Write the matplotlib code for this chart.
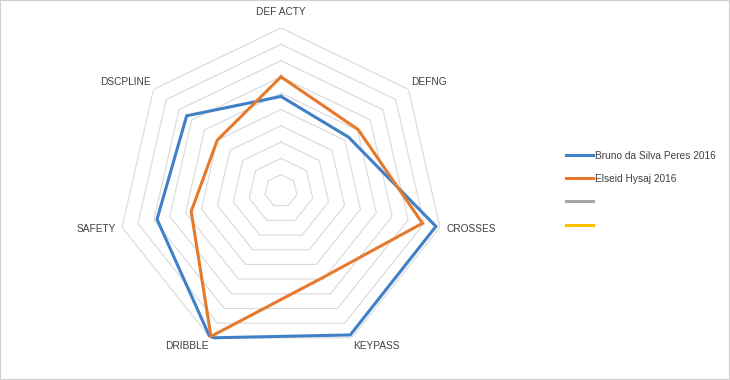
import numpy as np
import matplotlib
matplotlib.use("Agg")
import matplotlib.pyplot as plt
from matplotlib.patches import Rectangle

# datos (escala 0-10)
categorias = ["DEF ACTY", "DEFNG", "CROSSES", "KEYPASS", "DRIBBLE", "SAFETY", "DSCPLINE"]
bruno = [5.8, 5.3, 9.75, 9.8, 10.0, 7.8, 7.4]
elseid = [7.0, 6.05, 8.9, 5.9, 9.9, 5.65, 5.0]
series = ["Bruno da Silva Peres 2016", "Elseid Hysaj 2016", "", ""]
colores = ["#3F80C6", "#E57A2C", "#A5A5A5", "#FFC000"]
anillos = np.arange(1, 11)

plt.rcParams["font.family"] = ["Liberation Sans", "DejaVu Sans"]

fig = plt.figure(figsize=(7.3, 3.8), dpi=100)
ax = fig.add_axes([0.1616, 0.0684, 0.4466, 0.858], projection="polar")
ax.set_theta_zero_location("N")
ax.set_theta_direction(-1)
ax.set_ylim(0, 10)
ax.grid(False)
ax.spines["polar"].set_visible(False)
ax.set_xticks([])
ax.set_yticks([])
ax.patch.set_alpha(0)

n = len(categorias)
angulos = np.linspace(0, 2 * np.pi, n, endpoint=False)
cerrado = np.append(angulos, angulos[0])

# anillos heptagonales
for r in anillos:
    ax.plot(cerrado, [r] * (n + 1), color="#D9D9D9", lw=0.8, zorder=1)

ax.plot(cerrado, bruno + bruno[:1], color=colores[0], lw=2.2, zorder=3,
        solid_joinstyle="miter", label=series[0])
ax.plot(cerrado, elseid + elseid[:1], color=colores[1], lw=2.2, zorder=4,
        solid_joinstyle="miter", label=series[1])

# etiquetas de categorias
alineacion = [("center", "bottom", 10.7), ("left", "bottom", 10.25), ("left", "center", 10.4),
              ("left", "top", 10.2), ("right", "top", 10.2), ("right", "center", 10.4),
              ("right", "bottom", 10.25)]
for ang, nombre, (ha, va, rr) in zip(angulos, categorias, alineacion):
    ax.text(ang, rr, nombre, ha=ha, va=va, fontsize=7.3, color="#404040")

# leyenda con las cuatro series (dos vacias)
manejadores = [plt.Line2D([], [], color=c, lw=2.2) for c in colores]
fig.legend(manejadores, series, loc="upper left", bbox_to_anchor=(0.768, 0.617),
           frameon=False, fontsize=7.3, handlelength=2.7, handletextpad=0.2,
           labelspacing=1.3, borderpad=0, labelcolor="#404040")

fig.patches.append(Rectangle((0, 0), 1, 1, transform=fig.transFigure, fill=False,
                             edgecolor="#D0D0D0", lw=1.5))

fig.savefig("out.png", dpi=100)
